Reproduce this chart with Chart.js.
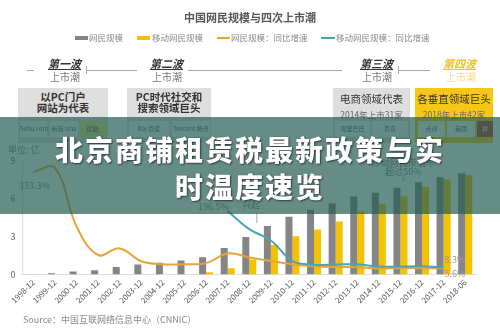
<!DOCTYPE html>
<html>
<head>
<meta charset="utf-8">
<script src="https://cdn.jsdelivr.net/npm/chart.js@4.4.1/dist/chart.umd.min.js"></script>
<style>
body { margin: 0; background: #fff; font-family: "Noto Sans CJK SC", "Noto Sans", sans-serif; }
#wrap { position: relative; width: 500px; height: 332px; overflow: hidden; background: #fff; }
#chart { position: absolute; left: 0; top: 0; }
.abs { position: absolute; white-space: nowrap; }
.title { left: 0; width: 500px; top: 9px; text-align: center; font-size: 11px; font-weight: bold; color: #555; }
.lgt { top: 31px; font-size: 8.5px; line-height: 13px; color: #8a8a8a; }
.sw { position: absolute; }
.wave { font-size: 11px; line-height: 13px; font-weight: bold; font-style: italic; text-decoration: underline; color: #333; }
.tide { font-size: 10px; line-height: 12px; color: #777; }
.hl { position: absolute; height: 1px; background: #aaa; }
.tick { position: absolute; width: 1px; height: 8px; background: #aaa; }
.box { position: absolute; top: 88px; height: 55px; background: #dedede; text-align: center; }
.box .l1 { position: absolute; left: 0; right: 0; font-size: 10.5px; line-height: 12px; color: #333; }
.tile { position: absolute; top: 121px; height: 16px; background: #fafafa; font-size: 6px; line-height: 16px; text-align: center; color: #557; }
#banner { position: absolute; left: 0; top: 117px; width: 500px; height: 97px; background: rgba(36, 92, 82, 0.7); z-index: 5; }
.bt { position: absolute; left: 0; width: 500px; text-align: center; color: #fff; font-size: 28px; line-height: 30px; font-weight: 900; letter-spacing: 2px; text-shadow: 1px 1px 2px rgba(0,0,0,0.55), 0 0 1px rgba(0,0,0,0.6); }
.src { left: 23px; top: 313px; font-size: 9px; color: #888; }
</style>
</head>
<body>
<div id="wrap">
  <canvas id="chart" width="500" height="332"></canvas>

  <div class="abs title">中国网民规模与四次上市潮</div>

  <div class="sw" style="left:75px;top:36px;width:13px;height:4px;background:#858585"></div>
  <div class="abs lgt" style="left:89px">网民规模</div>
  <div class="sw" style="left:137px;top:36px;width:13px;height:4px;background:#f5c200"></div>
  <div class="abs lgt" style="left:152px">移动网民规模</div>
  <div class="sw" style="left:217px;top:37px;width:13px;height:2px;background:#e6a53a"></div>
  <div class="abs lgt" style="left:231px">网民规模：同比增速</div>
  <div class="sw" style="left:321px;top:37px;width:14px;height:2px;background:#4aa4b4"></div>
  <div class="abs lgt" style="left:336px">移动网民规模：同比增速</div>

  <div class="hl" style="left:27px;width:7px;top:70px"></div>
  <div class="abs wave" style="left:48px;top:57px">第一波</div>
  <div class="abs tide" style="left:50px;top:71px">上市潮</div>
  <div class="tick" style="left:86px;top:66px"></div>
  <div class="hl" style="left:86px;width:51px;top:70px"></div>

  <div class="abs wave" style="left:150px;top:57px">第二波</div>
  <div class="abs tide" style="left:152px;top:71px">上市潮</div>
  <div class="hl" style="left:188px;width:154px;top:70px"></div>

  <div class="abs wave" style="left:360px;top:57px">第三波</div>
  <div class="abs tide" style="left:362px;top:71px">上市潮</div>
  <div class="tick" style="left:398px;top:66px"></div>
  <div class="hl" style="left:398px;width:32px;top:70px"></div>

  <div class="abs wave" style="left:443px;top:57px;color:#f0c22a">第四波</div>
  <div class="abs tide" style="left:446px;top:71px;color:#f5db8a">上市潮</div>

  <div class="box" style="left:18px;width:90px">
    <div class="l1" style="top:3px;font-weight:bold">以PC门户</div>
    <div class="l1" style="top:14px;font-weight:bold">网站为代表</div>
  </div>
  <div class="box" style="left:127px;width:84px">
    <div class="l1" style="top:3px;font-weight:bold">PC时代社交和</div>
    <div class="l1" style="top:14px;font-weight:bold">搜索领域巨头</div>
  </div>
  <div class="box" style="left:333px;width:77px">
    <div class="l1" style="top:5px">电商领域代表</div>
    <div class="l1" style="top:20px;font-size:8.5px;color:#666">2014年上市31家</div>
  </div>
  <div class="box" style="left:415px;width:78px;background:#f6c619">
    <div class="l1" style="top:5px">各垂直领域巨头</div>
    <div class="l1" style="top:20px;font-size:8.5px;color:#666">2018年上市42家</div>
  </div>

  <div class="tile" style="left:20px;width:27px">Sohu.com</div>
  <div class="tile" style="left:50px;width:28px">新浪 sina</div>
  <div class="tile" style="left:80px;width:25px;background:#efe27a">优酷</div>
  <div class="tile" style="left:129px;width:40px">Bai 百度</div>
  <div class="tile" style="left:172px;width:38px">Tencent 腾讯</div>
  <div class="tile" style="left:335px;width:35px">阿里巴巴</div>
  <div class="tile" style="left:372px;width:36px">京东</div>
  <div class="tile" style="left:418px;width:27px">点评</div>
  <div class="tile" style="left:447px;width:28px">美团</div>
  <div class="tile" style="left:477px;width:16px;background:#c0392b;color:#fff">拼</div>

  <div class="abs src">Source：中国互联网络信息中心（CNNIC）</div>

  <div id="banner">
    <div class="bt" style="top:17px">北京商铺租赁税最新政策与实</div>
    <div class="bt" style="top:54px">时温度速览</div>
  </div>
</div>

<script>
// Data
const periods = ['1998-12', '1999-12', '2000-12', '2001-12', '2002-12', '2003-12', '2004-12',
    '2005-12', '2006-12', '2007-12', '2008-12', '2009-12', '2010-12', '2011-12', '2012-12',
    '2013-12', '2014-12', '2015-12', '2016-12', '2017-12', '2018-06'];
const netUsers = [0.02, 0.09, 0.23, 0.34, 0.59, 0.80, 0.94, 1.11, 1.37, 2.10, 2.98, 3.84,
    4.57, 5.13, 5.64, 6.18, 6.49, 6.88, 7.31, 7.72, 8.02];
const mobileUsers = [null, null, null, null, null, null, null, null, 0.17, 0.50, 1.18, 2.33,
    3.03, 3.56, 4.20, 5.00, 5.57, 6.20, 6.95, 7.53, 7.88];
const netGrowth = [327, 340, 145, 50, 72, 29, 19, 19, 23, 55, 42, 30, 19, 12.2, 9.9, 9.5,
    5.0, 6.1, 6.2, 5.6, null];
const mobileGrowth = [null, null, null, null, null, null, null, null, null, 196.5, 136, 98.5,
    29.6, 17.5, 18.1, 19.1, 11.4, 11.3, 12.1, 8.3, null];
const yTicks = [0, 3, 6, 9];

const GREY = '#858585';
const YELLOW = '#f5c200';
const ORANGE = '#e6a53a';
const TEAL = '#4aa4b4';
const FONT = '"Noto Sans CJK SC", "Noto Sans", sans-serif';

// Notes drawn on top of the plot
const notesPlugin = {
    id: 'notes',
    afterDatasetsDraw(chart) {
        const ctx = chart.ctx;
        const x = chart.scales.x;
        const y = chart.scales.y;
        const y1 = chart.scales.y1;
        const last = periods.length - 1;
        const barW = chart.getDatasetMeta(0).data[last].width;

        ctx.save();
        ctx.fillStyle = '#888';
        ctx.font = '9px ' + FONT;
        ctx.textBaseline = 'middle';

        ctx.textAlign = 'left';
        ctx.fillText('单位: 亿', 8, chart.chartArea.top - 11);

        ctx.textAlign = 'center';
        ctx.fillText('333.3%', x.getPixelForValue(0) + 1, y1.getPixelForValue(netGrowth[0]) + 14);

        ctx.textAlign = 'right';
        ctx.fillText('196.5%', x.getPixelForValue(9) + 1, y1.getPixelForValue(mobileGrowth[9]) - 4);

        ctx.textAlign = 'left';
        ctx.fillStyle = '#999';
        ctx.fillText('8.3%', x.getPixelForValue(19) + 1, y1.getPixelForValue(mobileGrowth[19]) - 8);
        ctx.fillText('5.6%', x.getPixelForValue(19) + 1, y1.getPixelForValue(netGrowth[19]) + 5);

        ctx.fillStyle = '#888';
        ctx.font = '10px ' + FONT;
        ctx.textAlign = 'center';
        ctx.fillText(netUsers[last].toFixed(1), x.getPixelForValue(last) - barW / 2, y.getPixelForValue(netUsers[last]) - 7);
        ctx.textAlign = 'left';
        ctx.fillText(mobileUsers[last].toFixed(1), x.getPixelForValue(last) + barW + 5, y.getPixelForValue(mobileUsers[last]) + 2);

        // mobile internet rise
        ctx.font = '9px ' + FONT;
        ctx.textAlign = 'center';
        const riseX = x.getPixelForValue(10) + 2;
        ctx.fillText('兴起', riseX, 205);
        ctx.strokeStyle = '#aaa';
        ctx.lineWidth = 1;
        ctx.beginPath();
        ctx.moveTo(riseX + 5.5, 213);
        ctx.lineTo(riseX + 5.5, 223);
        ctx.stroke();

        // penetration note
        const penX = x.getPixelForValue(17) + 3;
        ctx.fillText('移动网民渗透率', penX, 163);
        ctx.fillText('超过50%', penX, 172);
        ctx.beginPath();
        ctx.moveTo(penX, 177);
        ctx.lineTo(penX, 181);
        ctx.stroke();
        ctx.restore();
    }
};

new Chart(document.getElementById('chart'), {
    type: 'bar',
    data: {
        labels: periods,
        datasets: [
            {
                type: 'line',
                label: '网民规模：同比增速',
                data: netGrowth,
                yAxisID: 'y1',
                borderColor: ORANGE,
                borderWidth: 2,
                tension: 0.4,
                pointRadius: 0,
                order: 1
            },
            {
                type: 'line',
                label: '移动网民规模：同比增速',
                data: mobileGrowth,
                yAxisID: 'y1',
                borderColor: TEAL,
                borderWidth: 2,
                tension: 0.35,
                pointRadius: 0,
                order: 0
            },
            {
                label: '网民规模',
                data: netUsers,
                backgroundColor: GREY,
                categoryPercentage: 0.65,
                barPercentage: 1,
                order: 2
            },
            {
                label: '移动网民规模',
                data: mobileUsers,
                backgroundColor: YELLOW,
                categoryPercentage: 0.65,
                barPercentage: 1,
                order: 2
            }
        ]
    },
    options: {
        responsive: false,
        animation: false,
        layout: { padding: { left: 0, right: 24, top: 161, bottom: 0 } },
        plugins: {
            legend: { display: false },
            tooltip: { enabled: false }
        },
        scales: {
            x: {
                grid: { display: false, drawTicks: false },
                border: { display: true, color: '#ddd' },
                ticks: {
                    autoSkip: false,
                    minRotation: 45,
                    maxRotation: 45,
                    padding: 3,
                    color: '#555',
                    font: { size: 8, family: FONT }
                },
                afterFit(scale) { scale.height = 57.5; }
            },
            y: {
                min: 0,
                max: 9,
                afterBuildTicks(scale) { scale.ticks = yTicks.map(v => ({ value: v })); },
                grid: { display: false, drawTicks: false },
                border: { display: true, color: '#ddd' },
                ticks: { padding: 7, color: '#666', font: { size: 9, family: FONT } },
                afterFit(scale) { scale.width = 22.6; }
            },
            y1: {
                display: false,
                min: -15,
                max: 363.3
            }
        }
    },
    plugins: [notesPlugin]
});
</script>
</body>
</html>
